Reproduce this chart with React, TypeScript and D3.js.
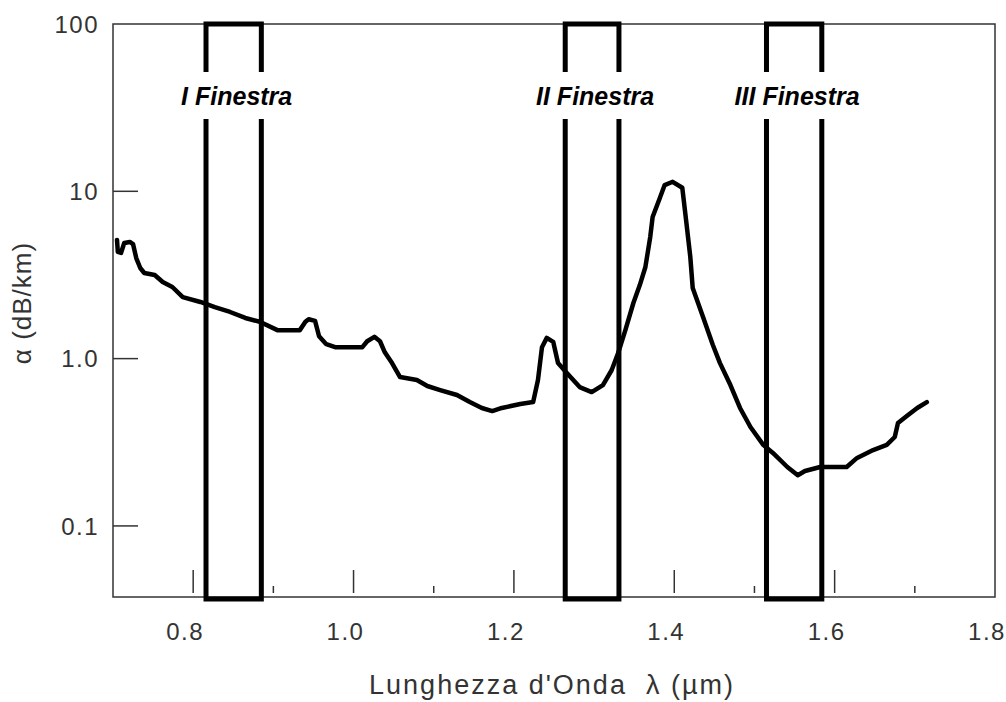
import React from "react";
import * as d3 from "d3";

// Wavelength (µm) and attenuation (dB/km)
const lambdaUm = [0.705,0.706,0.710,0.714,0.721,0.725,0.729,0.734,0.739,0.752,0.762,0.774,0.787,0.809,0.827,0.846,0.865,0.883,0.905,0.933,0.940,0.944,0.952,0.957,0.966,0.977,1.011,1.017,1.026,1.033,1.039,1.048,1.058,1.079,1.092,1.108,1.129,1.145,1.160,1.173,1.185,1.208,1.224,1.230,1.235,1.241,1.249,1.255,1.266,1.282,1.297,1.311,1.322,1.330,1.339,1.349,1.357,1.364,1.370,1.373,1.382,1.388,1.398,1.410,1.415,1.420,1.423,1.435,1.448,1.457,1.470,1.482,1.495,1.511,1.523,1.541,1.554,1.563,1.582,1.615,1.628,1.648,1.665,1.675,1.679,1.690,1.703,1.715];
const alphaDbKm = [5.12,4.34,4.28,4.91,4.98,4.84,3.99,3.48,3.25,3.16,2.87,2.68,2.33,2.18,2.03,1.90,1.75,1.66,1.48,1.48,1.66,1.72,1.68,1.36,1.22,1.17,1.17,1.27,1.35,1.27,1.09,0.94,0.776,0.745,0.686,0.649,0.606,0.550,0.507,0.486,0.507,0.536,0.550,0.745,1.17,1.33,1.26,0.94,0.820,0.676,0.631,0.695,0.855,1.08,1.48,2.15,2.75,3.53,5.33,7.02,9.12,10.9,11.4,10.5,6.56,4.05,2.64,1.82,1.21,0.94,0.695,0.507,0.390,0.305,0.273,0.225,0.201,0.213,0.225,0.225,0.255,0.284,0.305,0.340,0.412,0.454,0.507,0.550];

const yTicks = [100, 10, 1, 0.1];
const yTickLabels = ["100", "10", "1.0", "0.1"];
const xTicks = [0.8, 1.0, 1.2, 1.4, 1.6, 1.8];
const xTickLabels = ["0.8", "1.0", "1.2", "1.4", "1.6", "1.8"];
const xMinorTicks = [0.9, 1.1, 1.5, 1.7];

const windowNames = ["I Finestra", "II Finestra", "III Finestra"];
const windowStart = [0.816, 1.264, 1.515];
const windowEnd = [0.885, 1.331, 1.584];

const W = 1006, H = 702;
const L = 113, R = 995, T = 24, B = 597;

export default function App() {
  const x = d3.scaleLinear().domain([0.7, 1.8]).range([L, R]);
  const y = d3.scaleLog().domain([0.0376, 100]).range([B, T]);
  const line = d3.line<number>()
    .x((_, i) => x(lambdaUm[i]))
    .y((_, i) => y(alphaDbKm[i]))
    .curve(d3.curveLinear);
  const pathD = line(lambdaUm) || "";
  const font = "'Liberation Sans', Arial, sans-serif";
  const txt = "#333";
  const gapTop = 72, gapBot = 119;

  return (
    <svg width={W} height={H} style={{ position: "absolute", left: 0, top: 0, background: "#fff" }}>
      {/* frame */}
      <rect x={L} y={T} width={R - L} height={B - T} fill="none" stroke="#333" strokeWidth={1.5} />
      {/* y ticks */}
      {yTicks.map((v, i) => (
        <g key={"yt" + i}>
          {i > 0 && <line x1={L} x2={L + 25} y1={y(v)} y2={y(v)} stroke="#333" strokeWidth={1.5} />}
          <text x={99} y={y(v)} dy="0.36em" textAnchor="end" fontFamily={font} fontSize={24} letterSpacing={1.5} fill={txt}>{yTickLabels[i]}</text>
        </g>
      ))}
      {/* x ticks */}
      {xTicks.map((v, i) => (
        <g key={"xt" + i}>
          {v < 1.75 && <line x1={x(v)} x2={x(v)} y1={570} y2={593} stroke="#333" strokeWidth={1.5} />}
          <text x={x(v) - 8} y={640} textAnchor="middle" fontFamily={font} fontSize={24} letterSpacing={1.5} fill={txt}>{xTickLabels[i]}</text>
        </g>
      ))}
      {xMinorTicks.map((v, i) => (
        <line key={"xm" + i} x1={x(v)} x2={x(v)} y1={586} y2={593} stroke="#333" strokeWidth={1.5} />
      ))}
      {/* curve */}
      <path d={pathD} fill="none" stroke="#000" strokeWidth={4.5} strokeLinejoin="round" strokeLinecap="round" />
      {/* windows */}
      {windowNames.map((name, i) => {
        const x0 = x(windowStart[i]), x1 = x(windowEnd[i]);
        return (
          <g key={"w" + i}>
            <path d={`M${x0},${gapTop} V${T} H${x1} V${gapTop}`} fill="none" stroke="#000" strokeWidth={5} />
            <path d={`M${x0},${gapBot} V${B + 2} H${x1} V${gapBot}`} fill="none" stroke="#000" strokeWidth={5} />
            <text x={(x0 + x1) / 2 + 3} y={105} textAnchor="middle" fontFamily={font} fontSize={25} fontWeight="bold" fontStyle="italic" fill="#000">{name}</text>
          </g>
        );
      })}
      {/* axis titles */}
      <text x={552} y={694} textAnchor="middle" fontFamily={font} fontSize={27} letterSpacing={2} fill={txt} style={{ whiteSpace: "pre" }}>{"Lunghezza d'Onda  λ (µm)"}</text>
      <text transform="translate(31,303) rotate(-90)" textAnchor="middle" fontFamily={font} fontSize={26} letterSpacing={1} fill={txt}>{"α (dB/km)"}</text>
    </svg>
  );
}
